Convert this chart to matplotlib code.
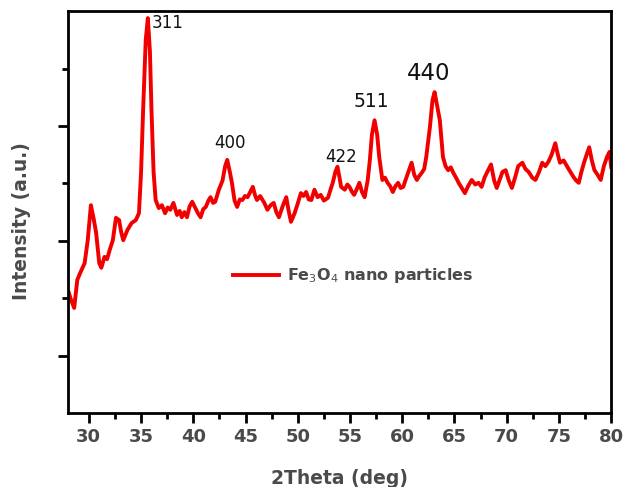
import matplotlib.pyplot as plt
from matplotlib.ticker import MultipleLocator, FixedLocator, NullFormatter

# XRD pattern of Fe3O4 nano particles
two_theta = [28.06, 28.3, 28.6, 28.9, 29.2, 29.6, 29.9, 30.2, 30.45, 30.7, 31.0, 31.2, 31.5, 31.75,
             32.0, 32.3, 32.6, 32.9, 33.1, 33.3, 33.7, 34.1, 34.5, 34.8, 35.0, 35.2, 35.45, 35.65,
             35.85, 36.0, 36.2, 36.4, 36.7, 37.0, 37.3, 37.55, 37.8, 38.1, 38.45, 38.7, 38.9, 39.15,
             39.4, 39.65, 39.9, 40.2, 40.45, 40.7, 40.95, 41.2, 41.45, 41.65, 41.9, 42.1, 42.45, 42.8,
             43.05, 43.25, 43.5, 43.7, 43.95, 44.2, 44.45, 44.7, 44.95, 45.2, 45.45, 45.7, 45.9, 46.1,
             46.4, 46.8, 47.1, 47.4, 47.7, 47.95, 48.2, 48.55, 48.9, 49.1, 49.35, 49.7, 50.0, 50.3,
             50.55, 50.8, 51.05, 51.3, 51.6, 51.9, 52.2, 52.5, 52.9, 53.15, 53.35, 53.6, 53.8, 54.0,
             54.15, 54.5, 54.75, 54.95, 55.2, 55.4, 55.65, 55.9, 56.15, 56.4, 56.7, 56.9, 57.1, 57.35,
             57.6, 57.8, 58.1, 58.35, 58.6, 58.85, 59.1, 59.35, 59.6, 59.85, 60.1, 60.3, 60.55, 60.9,
             61.15, 61.4, 61.6, 61.85, 62.1, 62.3, 62.65, 62.9, 63.1, 63.35, 63.6, 63.9, 64.15, 64.4,
             64.65, 64.9, 65.15, 65.4, 65.7, 66.0, 66.3, 66.65, 67.0, 67.3, 67.6, 67.9, 68.15, 68.5,
             68.8, 69.05, 69.3, 69.6, 69.9, 70.2, 70.5, 70.8, 71.1, 71.5, 71.8, 72.1, 72.45, 72.75,
             73.1, 73.4, 73.7, 74.0, 74.3, 74.65, 74.9, 75.1, 75.45, 75.8, 76.1, 76.4, 76.65, 76.9,
             77.15, 77.4, 77.65, 77.9, 78.15, 78.4, 78.7, 79.0, 79.3, 79.6, 79.85, 80.0]
intensity = [2.11, 1.97, 1.83, 2.32, 2.45, 2.61, 3.01, 3.62, 3.40, 3.14, 2.61, 2.53, 2.72, 2.68,
             2.84, 3.01, 3.40, 3.36, 3.15, 3.01, 3.19, 3.31, 3.36, 3.48, 4.18, 5.28, 6.50, 6.88,
             6.30, 5.28, 4.20, 3.71, 3.57, 3.62, 3.48, 3.58, 3.54, 3.66, 3.45, 3.52, 3.41, 3.50,
             3.41, 3.60, 3.68, 3.57, 3.48, 3.41, 3.55, 3.59, 3.70, 3.76, 3.66, 3.68, 3.89, 4.05,
             4.30, 4.41, 4.20, 4.01, 3.70, 3.59, 3.72, 3.71, 3.78, 3.76, 3.85, 3.94, 3.80, 3.71,
             3.78, 3.66, 3.54, 3.62, 3.66, 3.50, 3.41, 3.60, 3.76, 3.55, 3.33, 3.48, 3.65, 3.83,
             3.78, 3.85, 3.72, 3.71, 3.89, 3.76, 3.80, 3.70, 3.75, 3.90, 4.01, 4.20, 4.29, 4.10,
             3.94, 3.89, 3.98, 3.94, 3.85, 3.80, 3.90, 4.01, 3.85, 3.76, 4.06, 4.40, 4.85, 5.10,
             4.85, 4.46, 4.06, 4.10, 4.01, 3.95, 3.85, 3.95, 4.01, 3.92, 3.94, 4.05, 4.18, 4.36,
             4.15, 4.06, 4.12, 4.18, 4.25, 4.46, 4.98, 5.45, 5.59, 5.35, 5.10, 4.46, 4.30, 4.23,
             4.28, 4.18, 4.10, 4.01, 3.92, 3.83, 3.95, 4.06, 3.98, 4.01, 3.94, 4.11, 4.20, 4.33,
             4.05, 3.92, 4.05, 4.20, 4.23, 4.05, 3.92, 4.10, 4.30, 4.36, 4.25, 4.20, 4.10, 4.06,
             4.20, 4.36, 4.30, 4.38, 4.50, 4.70, 4.50, 4.36, 4.40, 4.29, 4.20, 4.11, 4.05, 4.01,
             4.20, 4.36, 4.50, 4.63, 4.40, 4.23, 4.15, 4.06, 4.30, 4.46, 4.55, 4.29]

# peak labels (hkl) and where they sit
peak_labels = ['311', '400', '422', '511', '440']
label_x = [35.98, 43.48, 54.15, 57.09, 62.57]
label_y = [6.79, 4.70, 4.46, 5.42, 5.91]
label_size = [12, 12, 12, 13.5, 16.5]

TEXT_COLOR = '#4a4a4a'

fig = plt.figure(figsize=(6.23, 4.87), dpi=100)
ax = fig.add_axes([0.109, 0.152, 0.872, 0.825])

ax.plot(two_theta, intensity, color='#f20000', linewidth=2.8, label=r'Fe$_3$O$_4$ nano particles')

for lab, x, y, s in zip(peak_labels, label_x, label_y, label_size):
    ha = 'left' if lab == '311' else 'center'
    ax.text(x, y, lab, fontsize=s, ha=ha, va='center', color='#111111')

ax.set_xlim(28, 80)
ax.set_ylim(0, 7)

ax.xaxis.set_major_locator(MultipleLocator(5))
ax.xaxis.set_minor_locator(MultipleLocator(2.5))
ax.yaxis.set_major_locator(FixedLocator([1, 3, 5]))
ax.yaxis.set_minor_locator(FixedLocator([2, 4, 6]))
ax.yaxis.set_major_formatter(NullFormatter())

ax.tick_params(axis='both', which='major', direction='out', length=7, width=2,
               labelsize=13, labelcolor=TEXT_COLOR)
ax.tick_params(axis='both', which='minor', direction='out', length=4, width=2)
ax.tick_params(top=False, right=False)
for lbl in ax.get_xticklabels():
    lbl.set_fontweight('bold')

for sp in ax.spines.values():
    sp.set_linewidth(2)

ax.set_xlabel('2Theta (deg)', fontsize=13.5, color=TEXT_COLOR, fontweight='bold')
ax.set_ylabel('Intensity (a.u.)', fontsize=13.5, color=TEXT_COLOR, fontweight='bold')
ax.xaxis.set_label_coords(0.5, -0.162)
ax.xaxis.label.set_va('center')
ax.yaxis.set_label_coords(-0.086, 0.478)
ax.yaxis.label.set_va('center')

leg = ax.legend(loc='center left', bbox_to_anchor=(0.303, 0.341), frameon=False,
                prop={'size': 11.5, 'weight': 'bold'}, handlelength=2.9, handletextpad=0.5,
                borderpad=0, borderaxespad=0)
for t in leg.get_texts():
    t.set_color(TEXT_COLOR)

plt.savefig('out.png', dpi=100)
